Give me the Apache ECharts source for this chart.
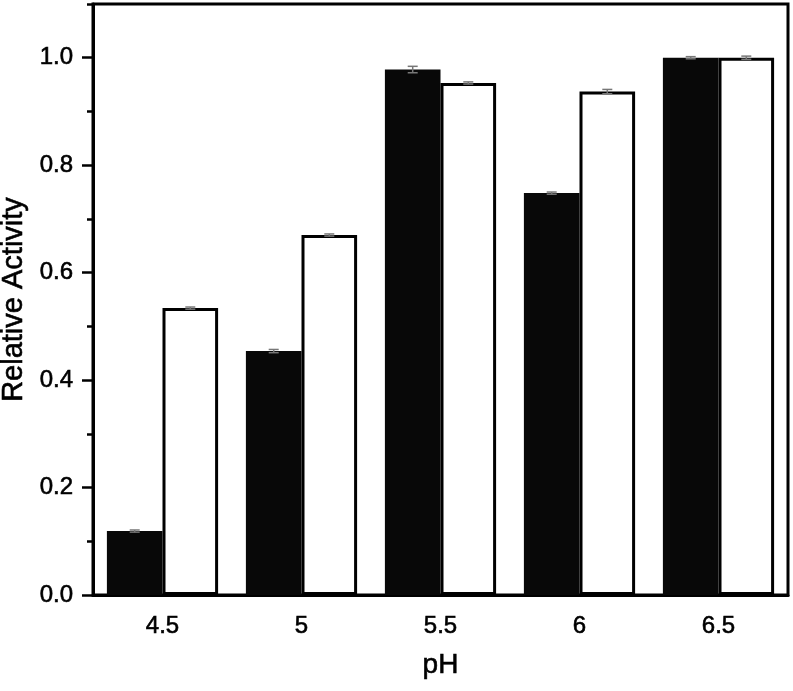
<!DOCTYPE html>
<html>
<head>
<meta charset="utf-8">
<script src="https://cdn.jsdelivr.net/npm/echarts@6/dist/echarts.min.js"></script>
<style>
  html, body { margin: 0; padding: 0; background: #fff; }
  #chart { width: 793px; height: 691px; }
</style>
</head>
<body>
<div id="chart"></div>
<script>
// pH values on the x axis
var phLabels = ['4.5', '5', '5.5', '6', '6.5'];
// filled (black) bars
var blackValues = [0.119, 0.454, 0.978, 0.748, 1.0];
var blackErr = [0.002, 0.003, 0.006, 0.002, 0.002];
// open (white) bars
var whiteValues = [0.534, 0.670, 0.953, 0.937, 1.0];
var whiteErr = [0.002, 0.002, 0.002, 0.004, 0.003];
// y tick labels
var yMajorTicks = [0, 0.2, 0.4, 0.6, 0.8, 1.0];

var font = 'Liberation Sans, Arial, sans-serif';
// a thin outline makes the text a bit heavier, like the scanned figure
var txt = function (size) {
    return { fontFamily: font, fontSize: size, color: '#000', textBorderColor: '#000', textBorderWidth: 0.6 };
};
var chart = echarts.init(document.getElementById('chart'));

// error bars drawn on top of the bars; side = -1 left bar, +1 right bar
function errBars(vals, errs, side) {
    var data = vals.map(function (v, i) { return [i, v, errs[i]]; });
    return {
        type: 'custom',
        xAxisIndex: 0,
        yAxisIndex: 0,
        z: 5,
        data: data,
        renderItem: function (params, api) {
            var i = api.value(0);
            var v = api.value(1);
            var e = api.value(2);
            var band = api.size([1, 0])[0];
            var dx = side * band * 0.2;
            var hi = api.coord([i, v + e]);
            var lo = api.coord([i, v - e]);
            var x = hi[0] + dx;
            var style = { stroke: '#777', lineWidth: 1.5 };
            return {
                type: 'group',
                children: [
                    { type: 'line', shape: { x1: x, y1: hi[1], x2: x, y2: lo[1] }, style: style },
                    { type: 'line', shape: { x1: x - 5, y1: hi[1], x2: x + 5, y2: hi[1] }, style: style },
                    { type: 'line', shape: { x1: x - 5, y1: lo[1], x2: x + 5, y2: lo[1] }, style: style }
                ]
            };
        }
    };
}

var gridBox = { left: 93, right: 5, top: 4, bottom: 96, outerBoundsMode: 'none', containLabel: false };

var option = {
    animation: false,
    grid: [
        Object.assign({ show: true, borderColor: '#000', borderWidth: 3, backgroundColor: 'transparent' }, gridBox),
        Object.assign({ show: false }, gridBox)
    ],
    xAxis: [
        {
            type: 'category',
            gridIndex: 0,
            data: phLabels,
            boundaryGap: true,
            name: 'pH',
            nameLocation: 'middle',
            nameGap: 56,
            nameTextStyle: txt(28),
            axisLine: { lineStyle: { color: '#000', width: 3 } },
            axisTick: { alignWithLabel: true, length: 11, lineStyle: { color: '#000', width: 2.5 } },
            axisLabel: Object.assign(txt(24), { margin: 19 }),
            splitLine: { show: false }
        },
        {
            // minor ticks at the band edges
            type: 'category',
            gridIndex: 1,
            data: phLabels,
            boundaryGap: true,
            axisLine: { show: false },
            axisTick: { length: 6, lineStyle: { color: '#000', width: 2.5 } },
            axisLabel: { show: false },
            splitLine: { show: false }
        }
    ],
    yAxis: [
        {
            type: 'value',
            gridIndex: 0,
            min: 0,
            max: 1.1,
            name: 'Relative Activity',
            nameLocation: 'middle',
            nameGap: 64,
            nameTextStyle: txt(29),
            axisLine: { show: true, lineStyle: { color: '#000', width: 3 } },
            axisTick: { show: true, customValues: yMajorTicks, length: 11, lineStyle: { color: '#000', width: 2.5 } },
            axisLabel: Object.assign(txt(24), {
                customValues: yMajorTicks,
                margin: 20,
                formatter: function (v) { return v.toFixed(1); }
            }),
            splitLine: { show: false }
        },
        {
            // minor ticks every 0.1
            type: 'value',
            gridIndex: 1,
            min: 0,
            max: 1.1,
            interval: 0.1,
            axisLine: { show: false },
            axisTick: { show: true, length: 6, lineStyle: { color: '#000', width: 2.5 } },
            axisLabel: { show: false },
            splitLine: { show: false }
        }
    ],
    series: [
        {
            name: 'black',
            type: 'bar',
            xAxisIndex: 0,
            yAxisIndex: 0,
            data: blackValues,
            barGap: '0%',
            barCategoryGap: '20%',
            itemStyle: { color: '#080808' }
        },
        {
            name: 'white',
            type: 'bar',
            xAxisIndex: 0,
            yAxisIndex: 0,
            data: whiteValues,
            barGap: '0%',
            barCategoryGap: '20%',
            itemStyle: { color: '#fff', borderColor: '#000', borderWidth: 3 }
        },
        errBars(blackValues, blackErr, -1),
        errBars(whiteValues, whiteErr, 1)
    ]
};

chart.setOption(option);
</script>
</body>
</html>
